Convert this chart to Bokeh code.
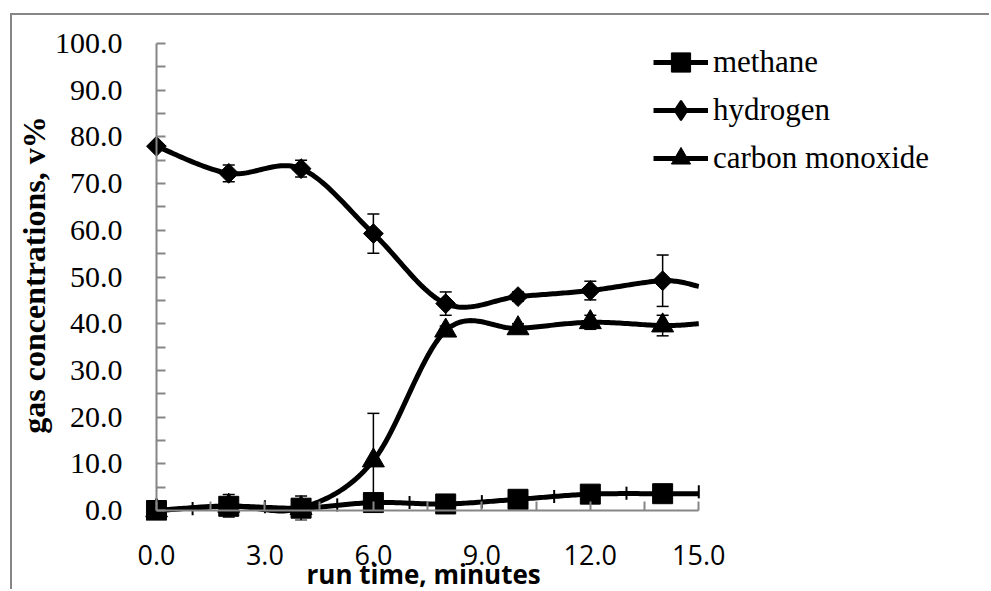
import numpy as np
from bokeh.plotting import figure
from bokeh.models import (ColumnDataSource, Whisker, FixedTicker, PrintfTickFormatter,
                          Legend, LegendItem, Range1d, TeeHead, LinearAxis, Title)
from bokeh.embed import file_html
from bokeh.resources import INLINE

# ---- data: gas concentrations (v%) versus run time (minutes) ----
time = [0, 2, 4, 6, 8, 10, 12, 14]
methane = [0.0, 0.9, 0.5, 1.7, 1.4, 2.4, 3.5, 3.6]
hydrogen = [78.0, 72.2, 73.2, 59.3, 44.3, 45.8, 47.1, 49.2]
carbon_monoxide = [0.0, 1.0, 0.5, 10.7, 38.5, 39.0, 40.3, 39.6]

methane_err = [0.3, 0.6, 0.4, 0.6, 0.5, 0.6, 0.5, 0.6]
hydrogen_err = [0.5, 1.8, 1.8, 4.2, 2.5, 1.0, 2.0, 5.5]
carbon_monoxide_err = [0.3, 2.4, 2.6, 10.1, 1.0, 1.0, 1.5, 2.2]

# last reading where the curves meet the end of the time axis
end_time = 15
methane_end = 3.6
hydrogen_end = 48.0
carbon_monoxide_end = 40.0

# intermediate methane readings at odd minutes (shown as bars only)
odd_time = [1, 3, 5, 7, 9, 11, 13, 15]
methane_odd = [0.4, 0.8, 1.2, 1.7, 1.9, 3.0, 3.7, 4.0]
methane_odd_err = [1.4] * 8

x_ticks = [0, 3, 6, 9, 12, 15]
x_minor = [1.5, 4.5, 7.5, 10.5, 13.5]
y_ticks = [0, 10, 20, 30, 40, 50, 60, 70, 80, 90, 100]
y_minor = [5, 15, 25, 35, 45, 55, 65, 75, 85, 95]

# ---- layout (page pixels) ----
PAGE_W, PAGE_H = 991, 591
OFF_X, OFF_Y = 12, 15              # figure offset inside the page (outer border drawn in the gap)
AXIS_X0, AXIS_X1 = 152, 697        # page x of t = 0 and t = 15
AXIS_Y100, AXIS_Y0 = 43, 510       # page y of 100 % and 0 %
FRAME_RIGHT_PAGE = 962             # plot frame reaches under the legend
PAD_L, PAD_T, PAD_B = 11, 14, 10   # frame room so edge markers stay whole

px_per_min = (AXIS_X1 - AXIS_X0) / (x_ticks[-1] - x_ticks[0])
px_per_pct = (AXIS_Y0 - AXIS_Y100) / (y_ticks[-1] - y_ticks[0])

fig_w, fig_h = PAGE_W - OFF_X, PAGE_H - OFF_Y
frame_left = AXIS_X0 - PAD_L - OFF_X
frame_right = FRAME_RIGHT_PAGE - OFF_X
frame_top = AXIS_Y100 - PAD_T - OFF_Y
frame_bottom = AXIS_Y0 + PAD_B - OFF_Y


def smooth(xs, ys, n=30):
    """Bezier curve through the points with Catmull-Rom control points."""
    x = np.asarray(xs, float)
    y = np.asarray(ys, float)
    px = np.concatenate([[x[0]], x, [x[-1]]])
    py = np.concatenate([[y[0]], y, [y[-1]]])
    t = np.linspace(0, 1, n)
    ox, oy = [], []
    for i in range(len(x) - 1):
        p0 = np.array([px[i], py[i]])
        p1 = np.array([px[i + 1], py[i + 1]])
        p2 = np.array([px[i + 2], py[i + 2]])
        p3 = np.array([px[i + 3], py[i + 3]])
        c1 = p1 + (p2 - p0) / 6.0
        c2 = p2 - (p3 - p1) / 6.0
        b = ((1 - t) ** 3)[:, None] * p1 + (3 * (1 - t) ** 2 * t)[:, None] * c1 \
            + (3 * (1 - t) * t ** 2)[:, None] * c2 + (t ** 3)[:, None] * p2
        if i > 0:
            b = b[1:]
        ox.extend(b[:, 0])
        oy.extend(b[:, 1])
    return ox, oy


p = figure(width=fig_w, height=fig_h, output_backend="svg", toolbar_location=None,
           x_range=Range1d(x_ticks[0] - PAD_L / px_per_min,
                           x_ticks[-1] + (FRAME_RIGHT_PAGE - AXIS_X1) / px_per_min),
           y_range=Range1d(y_ticks[0] - PAD_B / px_per_pct, y_ticks[-1] + PAD_T / px_per_pct),
           min_border_left=frame_left, min_border_top=frame_top,
           min_border_bottom=fig_h - frame_bottom, min_border_right=fig_w - frame_right)
p.margin = (OFF_Y, 0, 0, OFF_X)
# outer chart border: grey left and top edges just outside the figure
p.styles = {"box-shadow": "-2px -2px 0 0 #868686"}
p.outline_line_color = None
p.xgrid.visible = False
p.ygrid.visible = False
p.background_fill_color = "white"
p.border_fill_color = "white"

AXIS_GRAY = "#868686"

# ---- tick labels and titles (side axes, no lines) ----
xa = p.xaxis[0]
xa.ticker = FixedTicker(ticks=x_ticks)
xa.formatter = PrintfTickFormatter(format="%.1f")
xa.axis_line_color = None
xa.major_tick_line_color = None
xa.minor_tick_line_color = None
xa.major_label_standoff = 28 - PAD_B
xa.major_label_text_font = "Open Sans"
xa.major_label_text_font_size = "27px"
xa.major_label_text_color = "black"

ya = p.yaxis[0]
ya.ticker = FixedTicker(ticks=y_ticks)
ya.formatter = PrintfTickFormatter(format="%.1f")
ya.axis_line_color = None
ya.major_tick_line_color = None
ya.minor_tick_line_color = None
ya.major_label_standoff = 28 - PAD_L
ya.major_label_text_font = "Liberation Serif"
ya.major_label_text_font_size = "30px"
ya.major_label_text_color = "black"
ya.axis_label = "gas concentrations, v%"
ya.axis_label_text_font = "Liberation Serif"
ya.axis_label_text_font_size = "32px"
ya.axis_label_text_font_style = "bold"
ya.axis_label_text_color = "black"
ya.axis_label_standoff = 0

# x title, placed under the time axis (which spans only part of the frame)
p.add_layout(Title(text="run time, minutes", align="left", offset=161, standoff=-27,
                   vertical_align="bottom", text_font="Open Sans",
                   text_font_size="26px", text_font_style="bold", text_color="black"),
             "below")


# ---- axis lines with inward ticks, crossing at the origin (labels come from the side axes) ----
def origin_axis(ticks, minor, bounds):
    return LinearAxis(fixed_location=0, bounds=bounds,
                      ticker=FixedTicker(ticks=ticks, minor_ticks=minor),
                      major_label_overrides={t: "" for t in ticks},
                      axis_line_color=AXIS_GRAY, axis_line_width=2,
                      major_tick_line_color=AXIS_GRAY, minor_tick_line_color=AXIS_GRAY,
                      major_tick_line_width=2, minor_tick_line_width=2,
                      major_tick_in=9, major_tick_out=0, minor_tick_in=9, minor_tick_out=0,
                      major_label_standoff=0)


p.add_layout(origin_axis(x_ticks, x_minor, (x_ticks[0], x_ticks[-1])), "below")
p.add_layout(origin_axis(y_ticks, y_minor, (y_ticks[0], y_ticks[-1])), "left")


def add_errors(values, errs):
    src = ColumnDataSource(dict(
        base=time,
        upper=[v + e for v, e in zip(values, errs)],
        lower=[v - e for v, e in zip(values, errs)]))
    p.add_layout(Whisker(source=src, base="base", upper="upper", lower="lower",
                         line_color="black", line_width=1.5,
                         upper_head=TeeHead(size=12, line_width=1.5, line_color="black"),
                         lower_head=TeeHead(size=12, line_width=1.5, line_color="black")))


add_errors(methane, methane_err)
add_errors(hydrogen, hydrogen_err)
add_errors(carbon_monoxide, carbon_monoxide_err)

# odd-minute methane bars
odd_src = ColumnDataSource(dict(
    base=odd_time,
    upper=[v + e for v, e in zip(methane_odd, methane_odd_err)],
    lower=[v - e for v, e in zip(methane_odd, methane_odd_err)]))
p.add_layout(Whisker(source=odd_src, base="base", upper="upper", lower="lower",
                     line_color="black", line_width=2,
                     upper_head=None, lower_head=None))

LINE_W = 5
items = []

# methane: squares
cx, cy = smooth(time + [end_time], methane + [methane_end])
ln_m = p.line(cx, cy, line_color="black", line_width=LINE_W, line_join="round")
sc_m = p.scatter(time, methane, marker="square", size=20, fill_color="black", line_color="black")
items.append(LegendItem(label="methane", renderers=[ln_m, sc_m]))

# hydrogen: diamonds (squares turned 45 degrees)
cx, cy = smooth(time + [end_time], hydrogen + [hydrogen_end])
ln_h = p.line(cx, cy, line_color="black", line_width=LINE_W, line_join="round")
sc_h = p.scatter(time, hydrogen, marker="square", size=14, angle=np.pi / 4,
                 fill_color="black", line_color="black")
key_h = p.scatter(time, hydrogen, marker="diamond", fill_color="black",
                  line_color="black", line_width=2, visible=False)
items.append(LegendItem(label="hydrogen", renderers=[ln_h, key_h]))

# carbon monoxide: triangles
cx, cy = smooth(time + [end_time], carbon_monoxide + [carbon_monoxide_end])
ln_c = p.line(cx, cy, line_color="black", line_width=LINE_W, line_join="round")
sc_c = p.scatter(time, carbon_monoxide, marker="triangle", size=22,
                 fill_color="black", line_color="black")
items.append(LegendItem(label="carbon monoxide", renderers=[ln_c, sc_c]))

LEG_LEFT, LEG_TOP = 649, 38          # page pixels
ROW_H = 48
leg_h = 3 * ROW_H
legend = Legend(items=items,
                location=(LEG_LEFT - OFF_X - frame_left, frame_bottom - (LEG_TOP - OFF_Y + leg_h)),
                glyph_width=55, glyph_height=ROW_H, label_height=36, spacing=0,
                label_standoff=5, padding=0, margin=0,
                border_line_color=None, background_fill_alpha=0,
                label_text_font="Liberation Serif", label_text_font_size="31px",
                label_text_color="black")
p.add_layout(legend, "center")

open("out.html", "w").write(file_html(p, INLINE))
